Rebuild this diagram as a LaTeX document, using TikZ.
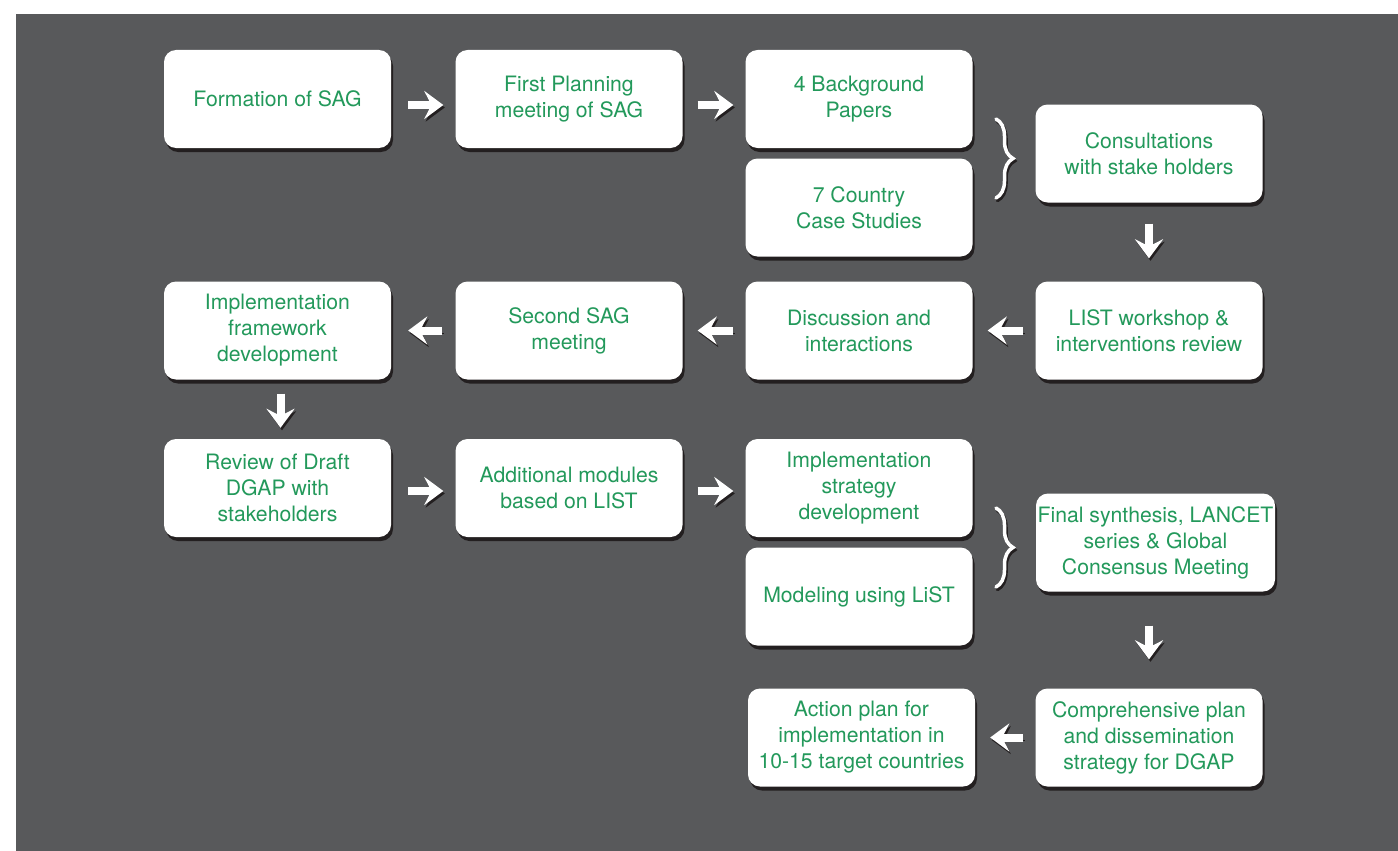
\documentclass[tikz,border=0pt]{standalone}
\usepackage{fontspec}
\setmainfont{TeX Gyre Heros}
\usetikzlibrary{arrows.meta,decorations.pathreplacing}
\definecolor{bgc}{HTML}{58595B}
\definecolor{shadowc}{HTML}{231F20}
\definecolor{txtc}{HTML}{23995B}
\tikzset{
  box/.style={fill=white, rounded corners=12pt, minimum width=227pt, minimum height=98pt,
    inner sep=0pt, align=center, text=txtc, font=\fontsize{21.2}{26}\selectfont,
    preaction={fill=shadowc, transform canvas={shift={(2pt,-4pt)}}}},
  barrow/.style={draw=white, line width=8pt,
    -{Stealth[length=19pt,width=28pt,inset=7pt]},
    preaction={draw=shadowc, transform canvas={shift={(1.5pt,-2.5pt)}}}},
  bbrace/.style={draw=white, line width=3.5pt, line cap=round,
    decorate, decoration={brace, amplitude=17pt}},
  bshadow/.style={bbrace, draw=shadowc}
}
\begin{document}
\begin{tikzpicture}[x=1pt,y=-1pt]
\useasboundingbox (0,0) rectangle (1398,851);
\fill[white] (0,0) rectangle (1398,851);
\fill[bgc] (16,14) rectangle (1398,851);
% row 1
\node[box] (f1) at (277.5,99) {Formation of SAG};
\node[box] (f2) at (569,99) {First Planning\\meeting of SAG};
\node[box] (f3) at (859,99) {4 Background\\Papers};
\node[box] (f4) at (859,207.5) {7 Country\\Case Studies};
\node[box] (f5) at (1149,153.5) {Consultations\\with stake holders};
% row 2
\node[box] (g1) at (277.5,330.5) {Implementation\\framework\\development};
\node[box] (g2) at (569,330.5) {Second SAG\\meeting};
\node[box] (g3) at (859,330.5) {Discussion and\\interactions};
\node[box] (g4) at (1149,330.5) {LIST workshop \&\\interventions review};
% row 3
\node[box] (h1) at (277.5,488) {Review of Draft\\DGAP with\\stakeholders};
\node[box] (h2) at (569,488) {Additional modules\\based on LIST};
\node[box] (h3) at (859,488) {Implementation\\strategy\\development};
\node[box] (h4) at (859,596.5) {Modeling using LiST};
\node[box, minimum width=239pt] (h5) at (1155.5,542.5) {Final synthesis, LANCET\\series \& Global\\Consensus Meeting};
% row 4
\node[box] (i1) at (861.5,737.5) {Action plan for\\implementation in\\10-15 target countries};
\node[box] (i2) at (1149,737.5) {Comprehensive plan\\and dissemination\\strategy for DGAP};
% arrows
\draw[barrow, shorten <=17pt, shorten >=12pt] ([yshift=-6pt]f1.east) -- ([yshift=-6pt]f2.west);
\draw[barrow, shorten <=15pt, shorten >=12pt] ([yshift=-6pt]f2.east) -- ([yshift=-6pt]f3.west);
\draw[barrow, shorten <=21pt, shorten >=23pt] (f5.south) -- (g4.north);
\draw[barrow, shorten <=12pt, shorten >=15pt] (g4.west) -- (g3.east);
\draw[barrow, shorten <=12pt, shorten >=15pt] (g3.west) -- (g2.east);
\draw[barrow, shorten <=13pt, shorten >=17pt] (g2.west) -- (g1.east);
\draw[barrow, shorten <=14pt, shorten >=11pt] ([xshift=3pt]g1.south) -- ([xshift=3pt]h1.north);
\draw[barrow, shorten <=17pt, shorten >=12pt] ([yshift=-3pt]h1.east) -- ([yshift=-3pt]h2.west);
\draw[barrow, shorten <=15pt, shorten >=12pt] ([yshift=-3pt]h2.east) -- ([yshift=-3pt]h3.west);
\draw[barrow, shorten <=34pt, shorten >=29pt] (h5.south -| i2.north) -- (i2.north);
\draw[barrow, shorten <=12pt, shorten >=15pt] (i2.west) -- (i1.east);
% braces
\draw[bshadow] (997.5,121.5) -- (997.5,200.5);
\draw[bbrace] (996,119) -- (996,198);
\draw[bshadow] (997.5,510.5) -- (997.5,589.5);
\draw[bbrace] (996,508) -- (996,587);
\end{tikzpicture}
\end{document}
